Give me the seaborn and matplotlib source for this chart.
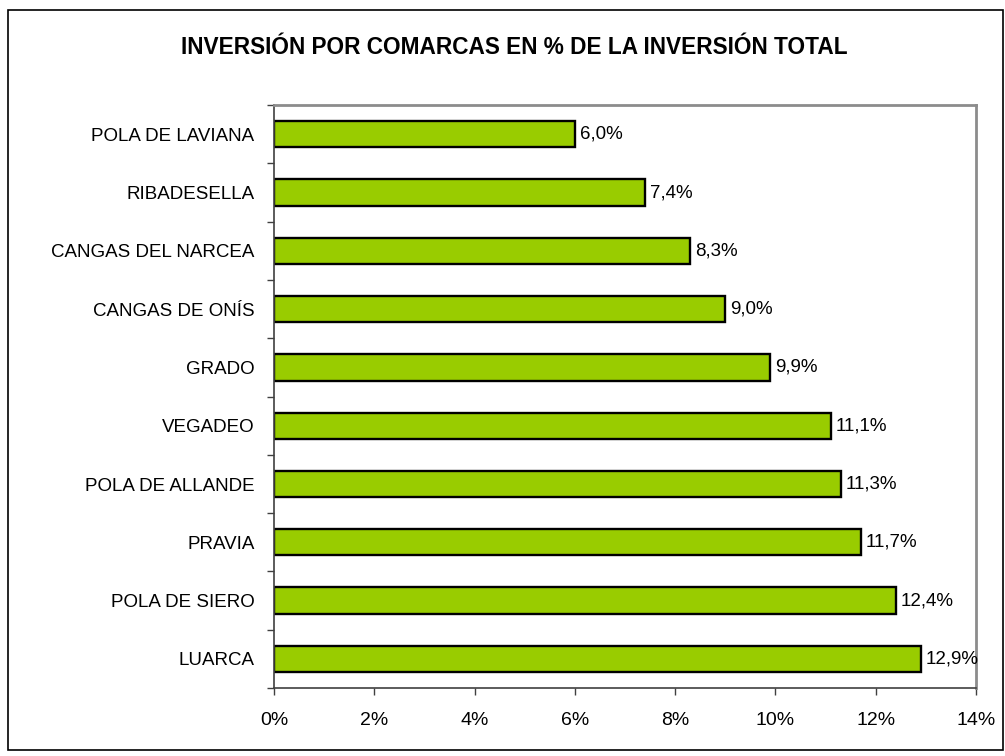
import pandas as pd
import numpy as np
import matplotlib
matplotlib.use("Agg")
import matplotlib.pyplot as plt
import seaborn as sns
from matplotlib.patches import Rectangle
from matplotlib.ticker import FuncFormatter

# data, top to bottom
comarcas = ["POLA DE LAVIANA", "RIBADESELLA", "CANGAS DEL NARCEA", "CANGAS DE ONÍS",
            "GRADO", "VEGADEO", "POLA DE ALLANDE", "PRAVIA", "POLA DE SIERO", "LUARCA"]
porcentajes = [6.0, 7.4, 8.3, 9.0, 9.9, 11.1, 11.3, 11.7, 12.4, 12.9]
x_ticks = [0, 2, 4, 6, 8, 10, 12, 14]

df = pd.DataFrame({"comarca": comarcas, "pct": porcentajes})

sns.set_style("white")
plt.rcParams["font.family"] = ["Liberation Sans", "DejaVu Sans"]
plt.rcParams["text.color"] = "black"
plt.rcParams["xtick.labelcolor"] = "black"
plt.rcParams["ytick.labelcolor"] = "black"

fig = plt.figure(figsize=(10.05, 7.56), dpi=100)
ax = fig.add_axes([0.2726, 0.0899, 0.6985, 0.771])

sns.barplot(data=df, x="pct", y="comarca", orient="h", order=comarcas,
            color="#99CC00", edgecolor="black", linewidth=1.7, width=0.45,
            saturation=1, ax=ax)

for i, v in enumerate(porcentajes):
    ax.text(v + 0.1, i, f"{v:.1f}%".replace(".", ","), va="center", ha="left", fontsize=13.5)

ax.set_xlim(0, 14)
ax.set_ylim(len(comarcas) - 0.5, -0.5)
ax.set_xticks(x_ticks)
ax.xaxis.set_major_formatter(FuncFormatter(lambda v, p: f"{v:.0f}%"))
ax.tick_params(axis="x", direction="out", length=5, width=1, color="#404040",
               labelsize=14, pad=12, bottom=True)
ax.set_yticks(np.arange(-0.5, len(comarcas), 1.0), minor=True)
ax.tick_params(axis="y", which="major", length=0, labelsize=13.5, pad=14)
ax.tick_params(axis="y", which="minor", direction="out", length=5, width=1,
               color="#404040", left=True)
ax.set_xlabel("")
ax.set_ylabel("")

for side in ["left", "bottom"]:
    ax.spines[side].set_color("#404040")
    ax.spines[side].set_linewidth(1.2)
for side in ["top", "right"]:
    ax.spines[side].set_color("#8c8c8c")
    ax.spines[side].set_linewidth(2)

fig.text(0.512, 0.937, "INVERSIÓN POR COMARCAS EN % DE LA INVERSIÓN TOTAL",
         ha="center", va="center", fontsize=16.3, fontweight="bold")

fig.patches.append(Rectangle((0.008, 0.008), 0.99, 0.979, transform=fig.transFigure,
                             fill=False, edgecolor="black", linewidth=1.2))

fig.savefig("out.png", dpi=100)
